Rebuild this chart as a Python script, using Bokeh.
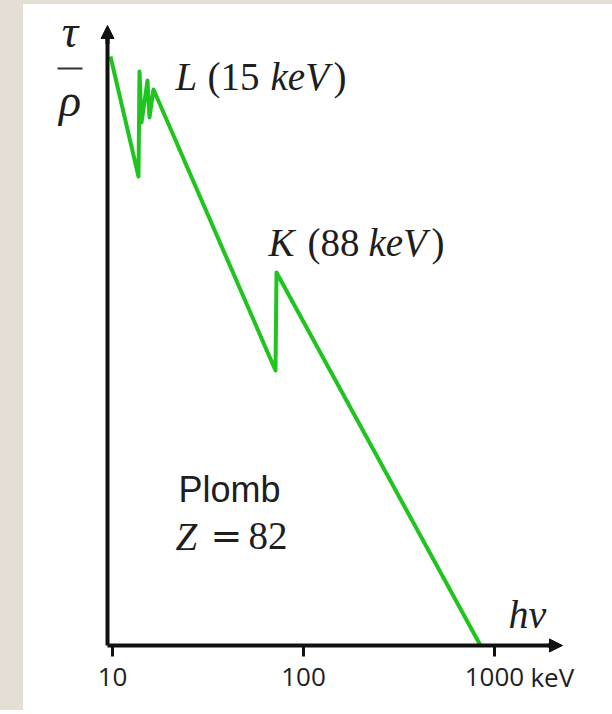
from bokeh.plotting import figure
from bokeh.models import Range1d, FixedTicker, Label, Arrow, NormalHead, Spacer
from bokeh.layouts import row, column
from bokeh.embed import file_html
from bokeh.resources import INLINE

# ---- data (lead, Z = 82) ----
energy_keV = [9.76, 13.68, 13.85, 14.19, 15.25, 15.62, 16.39, 71.36, 72.23, 845.0]
tau_over_rho = [95.0, 75.65, 92.58, 84.35, 91.13, 85.16, 89.68, 44.35, 60.16, 0.0]

tick_values = [10, 100, 1000]
tick_labels = ["10", "100", "1000"]

# ---- styles ----
GREEN = "#1fc41f"
AXIS = "#111111"
TXT = "#1e1e1e"
BEIGE = "#e4ded4"
SERIF = "Liberation Serif"
SANS = "Liberation Sans"
TICKF = "Open Sans"

X_AX, Y_AX = 9.415, 0.0          # where the two axes cross
PX = 6.2                          # pixels per y unit (layout helper only)

p = figure(width=589, height=706, x_axis_type="log",
           x_range=Range1d(3.420, 4148), y_range=Range1d(-10.484, 103.387),
           output_backend="svg", toolbar_location=None,
           min_border_left=0, min_border_right=0,
           min_border_top=0, min_border_bottom=0)
p.outline_line_color = None
p.grid.visible = False
p.background_fill_color = "white"
p.border_fill_color = "white"

# x axis, drawn at y = 0 inside the frame
xa = p.xaxis[0]
xa.fixed_location = Y_AX
xa.bounds = (X_AX, 2086)
xa.ticker = FixedTicker(ticks=tick_values)
xa.major_label_overrides = {v: s for v, s in zip(tick_values, tick_labels)}
xa.axis_line_width = 4
xa.axis_line_color = AXIS
xa.major_tick_in = 0
xa.major_tick_out = 11
xa.major_tick_line_width = 3
xa.major_tick_line_color = AXIS
xa.minor_tick_out = 0
xa.minor_tick_in = 0
xa.major_label_text_font = TICKF
xa.major_label_text_font_size = "26px"
xa.major_label_text_color = TXT
xa.major_label_standoff = 12

# y axis: only the line, at x = 9.415
ya = p.yaxis[0]
ya.fixed_location = X_AX
ya.bounds = (Y_AX, 99.03)
ya.ticker = FixedTicker(ticks=[])
ya.axis_line_width = 4
ya.axis_line_color = AXIS
ya.major_tick_out = 0
ya.minor_tick_out = 0
ya.major_label_text_font_size = "0px"

# arrow heads of the axes
p.add_layout(Arrow(end=NormalHead(size=13, fill_color=AXIS, line_color=AXIS),
                   x_start=1900, y_start=Y_AX, x_end=2270, y_end=Y_AX,
                   line_width=4, line_color=AXIS))
p.add_layout(Arrow(end=NormalHead(size=13, fill_color=AXIS, line_color=AXIS),
                   x_start=X_AX, y_start=97, x_end=X_AX, y_end=100,
                   line_width=4, line_color=AXIS))

# the curve
p.line(energy_keV, tau_over_rho, line_width=4, line_color=GREEN, line_join="round")


def lab(x, y, text, font=SERIF, size=39, style="normal", align="left", lift=0.37):
    # lift: raise the label so that its baseline sits at y
    p.add_layout(Label(x=x, y=y + lift * size / PX, text=text, text_font=font,
                       text_font_size=f"{size}px", text_font_style=style,
                       text_color=TXT, text_align=align, text_baseline="alphabetic"))


# y label tau / rho
lab(5.99, 96.29, "τ", size=46, style="italic", align="center")
p.add_layout(Arrow(end=None, x_start=5.15, y_start=93.06, x_end=6.97, y_end=93.06,
                   line_width=2, line_color="#333333"))
lab(5.99, 85.65, "ρ", size=46, style="italic", align="center", lift=0.3)

# L edge label
lab(21.37, 89.52, "L", style="italic")
lab(31.43, 89.52, "(15")
lab(67.2, 89.52, "keV", style="italic")
lab(143.6, 89.52, ")")

# K edge label
lab(65.6, 62.74, "K", style="italic")
lab(104.9, 62.74, "(88")
lab(218.9, 62.74, "keV", style="italic")
lab(468.0, 62.74, ")")

# element
lab(22.15, 23.06, "Plomb", font=SANS, size=36)
lab(21.37, 15.32, "Z", style="italic")
lab(32.6, 15.32, "=", font="DejaVu Serif", size=38)
lab(51.5, 15.32, "82")

# axis titles
lab(1183, 2.58, "hν", size=40, style="italic")
lab(1542, -6.77, "keV", font=TICKF, size=26, lift=0.42)

top_strip = Spacer(width=612, height=4, styles={"background-color": BEIGE})
left_strip = Spacer(width=23, height=706, styles={"background-color": BEIGE})
layout = column(top_strip, row(left_strip, p))

open("out.html", "w").write(file_html(layout, INLINE))
